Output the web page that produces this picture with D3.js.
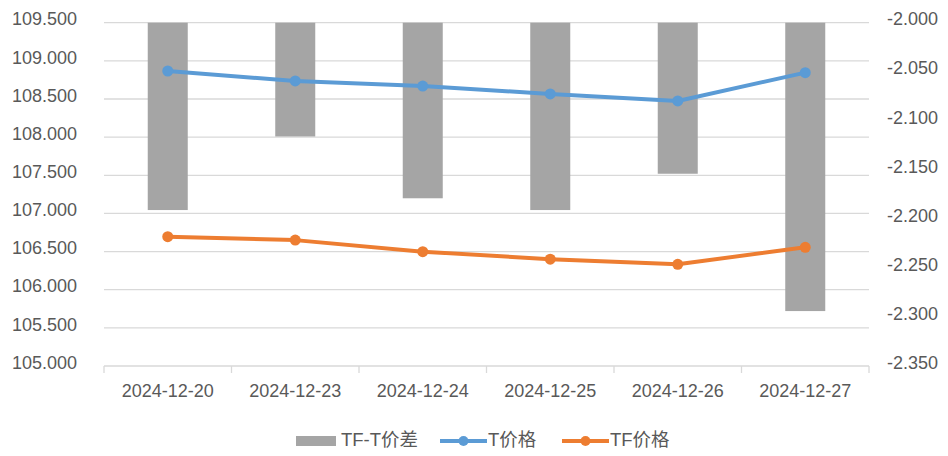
<!DOCTYPE html>
<html>
<head>
<meta charset="utf-8">
<script src="https://cdn.jsdelivr.net/npm/d3@7"></script>
<style>
  html, body { margin: 0; padding: 0; background: #fff; }
  svg text { font-family: "Liberation Sans", Arial, "Noto Sans CJK SC", sans-serif; fill: #595959; }
</style>
</head>
<body>
<svg id="chart" width="948" height="456"></svg>
<script>
const dates = ['2024-12-20', '2024-12-23', '2024-12-24', '2024-12-25', '2024-12-26', '2024-12-27'];
const spread = [-2.191, -2.116, -2.179, -2.191, -2.154, -2.294];
const tPrice = [108.867, 108.736, 108.670, 108.566, 108.474, 108.845];
const tfPrice = [106.695, 106.650, 106.499, 106.400, 106.333, 106.556];
const leftTicks = [105.0, 105.5, 106.0, 106.5, 107.0, 107.5, 108.0, 108.5, 109.0, 109.5];
const rightTicks = [-2.35, -2.30, -2.25, -2.20, -2.15, -2.10, -2.05, -2.00];
const legendNames = ['TF-T价差', 'T价格', 'TF价格'];

const svg = d3.select('#chart');
const plotL = 104, plotR = 869, plotT = 22.7, plotB = 366;
const grey = '#a5a5a5', blue = '#5b9bd5', orange = '#ed7d31', gridColor = '#d9d9d9';

const x = d3.scaleBand().domain(dates).range([plotL, plotR]);
const yL = d3.scaleLinear().domain([105, 109.5]).range([plotB, plotT]);
const yR = d3.scaleLinear().domain([-2.35, -2.0]).range([plotB, plotT]);

// gridlines (left axis)
svg.append('g').selectAll('line').data(leftTicks.slice(1)).join('line')
  .attr('x1', plotL).attr('x2', plotR)
  .attr('y1', d => yL(d)).attr('y2', d => yL(d))
  .attr('stroke', gridColor).attr('stroke-width', 1.3);

// left labels
svg.append('g').selectAll('text').data(leftTicks).join('text')
  .attr('x', 77).attr('y', d => yL(d) - 2)
  .attr('text-anchor', 'end').attr('dominant-baseline', 'middle')
  .style('font-size', '18px')
  .text(d => d.toFixed(3));

// right labels
svg.append('g').selectAll('text').data(rightTicks).join('text')
  .attr('x', 887).attr('y', d => yR(d) - 2)
  .attr('text-anchor', 'start').attr('dominant-baseline', 'middle')
  .style('font-size', '18px')
  .text(d => d.toFixed(3));

// bars (right axis, hanging from -2.000)
const bw = 40;
svg.append('g').selectAll('rect').data(spread).join('rect')
  .attr('x', (d, i) => x(dates[i]) + x.bandwidth() / 2 - bw / 2)
  .attr('y', yR(-2.0))
  .attr('width', bw)
  .attr('height', d => yR(d) - yR(-2.0))
  .attr('fill', grey);

// x axis
const xa = svg.append('g');
xa.append('line').attr('x1', plotL).attr('x2', plotR).attr('y1', plotB).attr('y2', plotB)
  .attr('stroke', gridColor).attr('stroke-width', 1.3);
const tickX = dates.map(d => x(d)).concat([plotR]);
xa.selectAll('line.tk').data(tickX).join('line').attr('class', 'tk')
  .attr('x1', d => d).attr('x2', d => d).attr('y1', plotB).attr('y2', plotB + 7)
  .attr('stroke', gridColor).attr('stroke-width', 1.3);
xa.selectAll('text').data(dates).join('text')
  .attr('x', d => x(d) + x.bandwidth() / 2).attr('y', 392)
  .attr('text-anchor', 'middle').attr('dominant-baseline', 'middle')
  .style('font-size', '18px')
  .text(d => d);

// lines
function drawSeries(vals, color) {
  const line = d3.line().x((d, i) => x(dates[i]) + x.bandwidth() / 2).y(d => yL(d));
  svg.append('path').datum(vals).attr('d', line)
    .attr('fill', 'none').attr('stroke', color).attr('stroke-width', 4).attr('stroke-linejoin', 'round');
  svg.append('g').selectAll('circle').data(vals).join('circle')
    .attr('cx', (d, i) => x(dates[i]) + x.bandwidth() / 2).attr('cy', d => yL(d))
    .attr('r', 5.5).attr('fill', color);
}
drawSeries(tPrice, blue);
drawSeries(tfPrice, orange);

// legend
const lg = svg.append('g');
const ly = 441;
lg.append('rect').attr('x', 296).attr('y', ly - 5).attr('width', 40).attr('height', 10).attr('fill', grey);
lg.append('text').attr('x', 341).attr('y', ly).attr('dominant-baseline', 'middle')
  .style('font-size', '18.5px').text(legendNames[0]);
[[440, blue, legendNames[1]], [562, orange, legendNames[2]]].forEach(([lx, c, name]) => {
  lg.append('line').attr('x1', lx).attr('x2', lx + 47).attr('y1', ly).attr('y2', ly)
    .attr('stroke', c).attr('stroke-width', 4);
  lg.append('circle').attr('cx', lx + 23.5).attr('cy', ly).attr('r', 5).attr('fill', c);
  lg.append('text').attr('x', lx + 48).attr('y', ly).attr('dominant-baseline', 'middle')
    .style('font-size', '18.5px').text(name);
});
</script>
</body>
</html>
